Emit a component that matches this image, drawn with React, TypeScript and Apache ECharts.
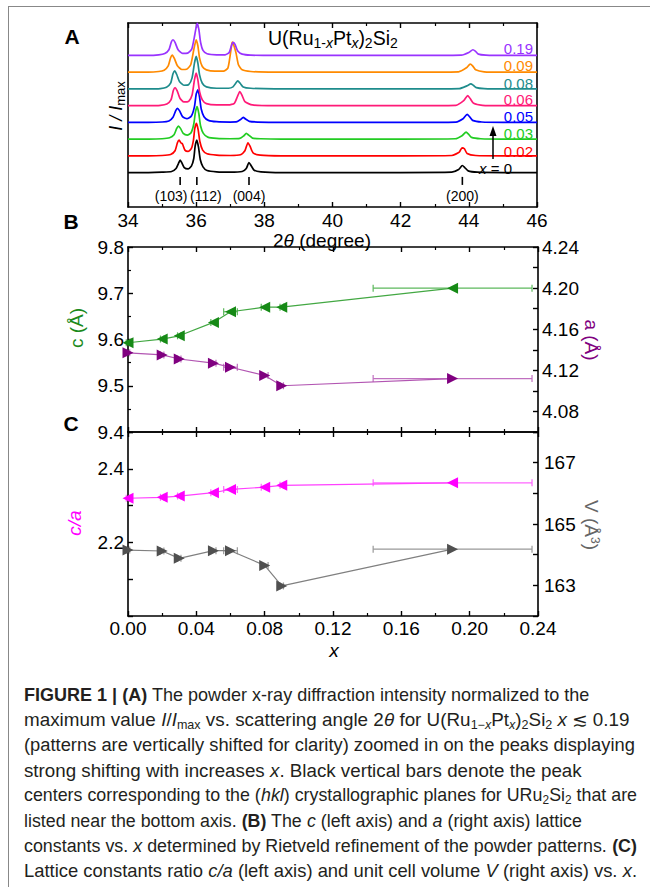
import React, { useEffect, useRef } from 'react';
import * as echarts from 'echarts';

// ---------------- Panel A : XRD patterns ----------------
const twoThetaTicks = [34, 36, 38, 40, 42, 44, 46];
const patternLabels = ['x = 0', '0.02', '0.03', '0.05', '0.06', '0.08', '0.09', '0.19'];
const patternColors = ['#000000', '#ff0000', '#22cc22', '#0000ff', '#ff1a78', '#1e8c8c', '#ff8a00', '#9933ff'];
const patternOffsets = [1.0, 1.5, 2.0, 2.5, 3.0, 3.5, 4.0, 4.5];

const patternX000 = [[34.0,0.03],[34.6,0.03],[35.0,0.04],[35.28,0.06],[35.41,0.15],[35.48,0.30],[35.53,0.40],[35.58,0.32],[35.65,0.18],[35.76,0.14],[35.86,0.22],[35.93,0.45],[35.97,0.82],[36.02,1.0],[36.07,0.78],[36.12,0.42],[36.2,0.2],[36.32,0.09],[36.6,0.05],[37.0,0.04],[37.35,0.06],[37.47,0.15],[37.55,0.33],[37.61,0.24],[37.7,0.1],[37.9,0.05],[38.5,0.03],[40.0,0.03],[42.0,0.03],[43.5,0.04],[43.7,0.12],[43.81,0.24],[43.88,0.18],[43.98,0.08],[44.25,0.04],[45.0,0.03],[46.0,0.03]];
const patternX002 = [[34.0,0.03],[34.6,0.03],[35.0,0.04],[35.25,0.07],[35.38,0.18],[35.45,0.42],[35.5,0.5],[35.55,0.42],[35.6,0.38],[35.67,0.2],[35.76,0.16],[35.86,0.25],[35.92,0.5],[35.96,0.85],[36.01,1.0],[36.06,0.8],[36.11,0.45],[36.19,0.2],[36.32,0.09],[36.6,0.05],[37.0,0.04],[37.3,0.06],[37.43,0.18],[37.52,0.42],[37.58,0.32],[37.67,0.12],[37.88,0.05],[38.5,0.03],[40.0,0.03],[42.0,0.03],[43.5,0.04],[43.72,0.14],[43.8,0.27],[43.87,0.24],[43.95,0.1],[44.2,0.04],[45.0,0.03],[46.0,0.03]];
const patternX003 = [[34.0,0.03],[34.6,0.03],[35.0,0.04],[35.22,0.07],[35.35,0.16],[35.43,0.35],[35.48,0.42],[35.54,0.35],[35.62,0.2],[35.74,0.15],[35.85,0.22],[35.93,0.48],[35.98,0.85],[36.03,1.0],[36.08,0.78],[36.13,0.42],[36.21,0.2],[36.34,0.09],[36.6,0.05],[37.0,0.04],[37.28,0.05],[37.4,0.13],[37.47,0.2],[37.54,0.15],[37.65,0.06],[37.9,0.04],[38.5,0.03],[40.0,0.03],[42.0,0.03],[43.6,0.04],[43.8,0.13],[43.92,0.24],[43.99,0.18],[44.08,0.08],[44.35,0.04],[45.0,0.03],[46.0,0.03]];
const patternX005 = [[34.0,0.03],[34.6,0.03],[35.0,0.04],[35.2,0.07],[35.32,0.18],[35.4,0.38],[35.45,0.45],[35.51,0.38],[35.6,0.2],[35.73,0.14],[35.86,0.22],[35.95,0.5],[36.0,0.87],[36.05,1.0],[36.1,0.78],[36.15,0.42],[36.23,0.2],[36.36,0.09],[36.6,0.05],[37.0,0.04],[37.2,0.05],[37.31,0.12],[37.38,0.18],[37.45,0.13],[37.56,0.06],[37.8,0.04],[38.5,0.03],[40.0,0.03],[42.0,0.03],[43.62,0.04],[43.83,0.14],[43.95,0.27],[44.02,0.2],[44.11,0.09],[44.38,0.04],[45.0,0.03],[46.0,0.03]];
const patternX006 = [[34.0,0.03],[34.6,0.03],[34.95,0.04],[35.14,0.08],[35.26,0.2],[35.33,0.48],[35.38,0.57],[35.44,0.48],[35.52,0.26],[35.64,0.14],[35.78,0.16],[35.88,0.35],[35.95,0.8],[36.0,1.0],[36.05,0.8],[36.1,0.45],[36.18,0.2],[36.3,0.09],[36.6,0.05],[36.95,0.05],[37.12,0.1],[37.21,0.3],[37.28,0.45],[37.34,0.35],[37.43,0.15],[37.65,0.05],[38.3,0.03],[40.0,0.03],[42.0,0.03],[43.62,0.04],[43.85,0.18],[43.97,0.33],[44.04,0.24],[44.14,0.1],[44.4,0.04],[45.0,0.03],[46.0,0.03]];
const patternX008 = [[34.0,0.03],[34.6,0.03],[34.95,0.04],[35.13,0.08],[35.25,0.2],[35.32,0.48],[35.37,0.57],[35.43,0.46],[35.51,0.25],[35.64,0.14],[35.78,0.16],[35.88,0.36],[35.95,0.8],[36.0,1.0],[36.05,0.8],[36.1,0.45],[36.18,0.2],[36.3,0.09],[36.6,0.05],[36.95,0.05],[37.08,0.09],[37.16,0.2],[37.22,0.27],[37.29,0.2],[37.38,0.09],[37.6,0.05],[38.3,0.03],[40.0,0.03],[42.0,0.03],[43.72,0.04],[43.94,0.12],[44.06,0.18],[44.13,0.14],[44.22,0.07],[44.45,0.04],[45.0,0.03],[46.0,0.03]];
const patternX009 = [[34.0,0.03],[34.6,0.03],[34.9,0.05],[35.06,0.09],[35.18,0.22],[35.25,0.46],[35.3,0.54],[35.36,0.44],[35.45,0.22],[35.58,0.11],[35.72,0.12],[35.84,0.25],[35.93,0.7],[36.0,1.0],[36.05,0.82],[36.1,0.45],[36.18,0.2],[36.3,0.1],[36.55,0.06],[36.8,0.06],[36.93,0.15],[37.0,0.55],[37.05,0.9],[37.07,0.93],[37.12,0.78],[37.17,0.6],[37.24,0.25],[37.35,0.1],[37.6,0.05],[38.3,0.03],[40.0,0.03],[42.0,0.03],[43.7,0.04],[43.93,0.16],[44.04,0.27],[44.11,0.22],[44.2,0.1],[44.45,0.04],[45.0,0.03],[46.0,0.03]];
const patternX019 = [[34.0,0.03],[34.6,0.03],[34.9,0.05],[35.08,0.09],[35.2,0.2],[35.27,0.43],[35.32,0.5],[35.38,0.42],[35.47,0.2],[35.6,0.09],[35.75,0.1],[35.87,0.22],[35.96,0.65],[36.03,1.0],[36.08,0.8],[36.13,0.42],[36.2,0.18],[36.32,0.08],[36.6,0.05],[36.85,0.05],[36.97,0.12],[37.04,0.34],[37.08,0.42],[37.14,0.36],[37.22,0.16],[37.35,0.07],[37.6,0.04],[38.3,0.03],[40.0,0.03],[42.0,0.03],[43.78,0.04],[44.0,0.12],[44.12,0.2],[44.19,0.16],[44.28,0.07],[44.5,0.04],[45.0,0.03],[46.0,0.03]];
const patterns = [patternX000, patternX002, patternX003, patternX005, patternX006, patternX008, patternX009, patternX019];

const hklPositions = [35.53, 36.02, 37.55, 43.81];
const hklLabels = ['(103)', '(112)', '(004)', '(200)'];

// ---------------- Panels B & C : lattice parameters ----------------
const xTicks = [0, 0.04, 0.08, 0.12, 0.16, 0.2, 0.24];
const xPt = [0, 0.02, 0.03, 0.05, 0.06, 0.08, 0.09, 0.19];
const xErr = [0.001, 0.001, 0.001, 0.0015, 0.004, 0.002, 0.001, 0.0465];
const cLattice = [9.593, 9.601, 9.608, 9.637, 9.660, 9.670, 9.670, 9.711];
const aLattice = [4.137, 4.135, 4.131, 4.127, 4.123, 4.115, 4.105, 4.112];
const cOverA = [2.320, 2.3225, 2.326, 2.335, 2.344, 2.350, 2.355, 2.362];
const volume = [164.15, 164.12, 163.88, 164.13, 164.13, 163.65, 162.98, 164.18];

const cTickLabels = [9.4, 9.5, 9.6, 9.7, 9.8];
const aTickLabels = [4.08, 4.12, 4.16, 4.2, 4.24];
const caTickLabels = [2.2, 2.4];
const vTickLabels = [163, 165, 167];

// ---------------- Caption ----------------
const captionLines: [string, string][][] = [
  [['b', 'FIGURE 1 | (A)'], ['n', ' The powder x-ray diffraction intensity normalized to the']],
  [['n', 'maximum value '], ['i', 'I'], ['n', '/'], ['i', 'I'], ['s', 'max'], ['n', ' vs. scattering angle 2'], ['i', 'θ'], ['n', ' for U(Ru'], ['s', '1−'], ['si', 'x'], ['n', 'Pt'], ['si', 'x'], ['n', ')'], ['s', '2'], ['n', 'Si'], ['s', '2'], ['n', ' '], ['i', 'x'], ['n', ' ≲ 0.19']],
  [['n', '(patterns are vertically shifted for clarity) zoomed in on the peaks displaying']],
  [['n', 'strong shifting with increases '], ['i', 'x'], ['n', '. Black vertical bars denote the peak']],
  [['n', 'centers corresponding to the ('], ['i', 'hkl'], ['n', ') crystallographic planes for URu'], ['s', '2'], ['n', 'Si'], ['s', '2'], ['n', ' that are']],
  [['n', 'listed near the bottom axis. '], ['b', '(B)'], ['n', ' The '], ['i', 'c'], ['n', ' (left axis) and '], ['i', 'a'], ['n', ' (right axis) lattice']],
  [['n', 'constants vs. '], ['i', 'x'], ['n', ' determined by Rietveld refinement of the powder patterns. '], ['b', '(C)']],
  [['n', 'Lattice constants ratio '], ['i', 'c/a'], ['n', ' (left axis) and unit cell volume '], ['i', 'V'], ['n', ' (right axis) vs. '], ['i', 'x'], ['n', '.']],
];
const captionRight = [590, 630, 635, 582, 637, 582, 637, 637];

const F = "'Liberation Sans', Arial, Helvetica, sans-serif";
const CF = "'Liberation Sans Narrow', 'Liberation Sans', Arial, sans-serif";

function measureSegs(segs: [string, string][], fam: string, size: number, sub: number) {
  const ctx = document.createElement('canvas').getContext('2d');
  if (!ctx) return 600;
  let w = 0;
  for (const [s, t] of segs) {
    const it = s === 'i' || s === 'si' ? 'italic ' : '';
    const bd = s === 'b' ? 'bold ' : '';
    const sz = s === 's' || s === 'si' ? sub : size;
    ctx.font = `${it}${bd}${sz}px ${fam}`;
    w += ctx.measureText(t).width;
  }
  return w;
}

function T(x: number, y: number, text: string, o: any = {}) {
  const align = o.align || 'center';
  const va = o.va || 'middle';
  return {
    type: 'text', x, y, rotation: o.rotation || 0, scaleX: o.scaleX || 1, silent: true, z: 100,
    style: {
      text, fill: o.color || '#000', fontSize: o.size || 19, fontFamily: o.family || F,
      fontWeight: o.weight || 'normal', fontStyle: o.style || 'normal',
      align, textAlign: align, verticalAlign: va, textVerticalAlign: va, rich: o.rich,
    },
  };
}

function makeAxis(extra: any) {
  return {
    type: 'value',
    axisLine: { show: true, onZero: false, lineStyle: { color: '#000', width: 1.6 } },
    axisTick: { show: true, inside: true, length: 5, lineStyle: { color: '#000', width: 1.4 } },
    minorTick: { show: false },
    splitLine: { show: false },
    minorSplitLine: { show: false },
    axisLabel: { show: false },
    ...extra,
  };
}

const labelStyle = { color: '#000', fontSize: 19, fontFamily: F };
const minor2 = { show: true, splitNumber: 2, length: 3, lineStyle: { color: '#000', width: 1.2 } };

function errRender(color: string) {
  return (params: any, api: any) => {
    const x = api.value(0), y = api.value(1), e = api.value(2);
    const p1 = api.coord([x - e, y]);
    const p2 = api.coord([x + e, y]);
    const st = { stroke: color, lineWidth: 1.2 };
    return {
      type: 'group', children: [
        { type: 'line', shape: { x1: p1[0], y1: p1[1], x2: p2[0], y2: p2[1] }, style: st },
        { type: 'line', shape: { x1: p1[0], y1: p1[1] - 3.5, x2: p1[0], y2: p1[1] + 3.5 }, style: st },
        { type: 'line', shape: { x1: p2[0], y1: p2[1] - 3.5, x2: p2[0], y2: p2[1] + 3.5 }, style: st },
      ],
    };
  };
}

export default function App() {
  const ref = useRef<HTMLDivElement>(null);
  useEffect(() => {
    document.body.style.margin = '0';
    if (!ref.current) return;
    const chart = echarts.init(ref.current, null, { renderer: 'svg' });

    const hklShift = [-9, 9, 0, 0];
    const patternSeries = patterns.map((pts, i) => ({
      type: 'line', xAxisIndex: 0, yAxisIndex: 0, silent: true,
      data: pts.map(([x, y]) => [x, y + patternOffsets[i]]),
      showSymbol: false, symbol: 'none', smooth: 0.2, clip: true,
      lineStyle: { color: patternColors[i], width: 1.7 },
      z: 2 + i * 0.01,
    }));

    const hklSeries = {
      type: 'custom', xAxisIndex: 0, yAxisIndex: 0, silent: true,
      data: hklPositions.map((p, i) => [p, i]),
      renderItem: (params: any, api: any) => {
        const x = api.value(0);
        const idx = api.value(1);
        const top = api.coord([x, 0.9]);
        const bot = api.coord([x, 0.66]);
        const lab = api.coord([x, 0.33]);
        return {
          type: 'group', children: [
            { type: 'line', shape: { x1: top[0], y1: top[1], x2: bot[0], y2: bot[1] }, style: { stroke: '#000', lineWidth: 1.6 } },
            { type: 'text', x: lab[0] + hklShift[idx], y: lab[1], style: { text: hklLabels[idx], fill: '#000', fontSize: 14, fontFamily: F, align: 'center', verticalAlign: 'middle' } },
          ],
        };
      },
    };

    const mk = (xa: number, ya: number, vals: number[], rot: number, mColor: string, lColor: string) => ({
      type: 'line', xAxisIndex: xa, yAxisIndex: ya, silent: true,
      data: xPt.map((x, i) => [x, vals[i]]),
      symbol: 'triangle', symbolSize: 11, symbolRotate: rot, showSymbol: true,
      itemStyle: { color: mColor }, lineStyle: { color: lColor, width: 1.2 }, z: 5,
    });
    const eb = (xa: number, ya: number, vals: number[], color: string) => ({
      type: 'custom', xAxisIndex: xa, yAxisIndex: ya, silent: true, z: 3,
      data: xPt.map((x, i) => [x, vals[i], xErr[i]]),
      encode: { x: 0, y: 1 },
      renderItem: errRender(color),
    });

    const capRich = {
      b: { fontWeight: 'bold', fontSize: 18, fontFamily: CF, fill: '#231f20', lineHeight: 22 },
      i: { fontStyle: 'italic', fontSize: 18, fontFamily: CF, fill: '#231f20', lineHeight: 22 },
      s: { fontSize: 12, fontFamily: CF, fill: '#231f20', lineHeight: 12, verticalAlign: 'bottom' },
      si: { fontStyle: 'italic', fontSize: 12, fontFamily: CF, fill: '#231f20', lineHeight: 12, verticalAlign: 'bottom' },
      n: { fontSize: 18, fontFamily: CF, fill: '#231f20', lineHeight: 22 },
    };
    const captionEls = captionLines.map((segs, k) => {
      const w = measureSegs(segs, CF, 18, 12);
      const sc = (captionRight[k] - 24) / w;
      const str = segs.map(([s, t]) => `{${s}|${t}}`).join('');
      return T(24, 695 + 25.1 * k, str, { align: 'left', scaleX: sc, family: CF, size: 18, color: '#231f20', rich: capRich });
    });

    const labelYs = [168, 151, 133, 116, 99, 83, 65, 48];
    const curveLabelEls = patternLabels.map((lab, i) => {
      if (i === 0) {
        return T(512, labelYs[i], '{i|x} = 0', { align: 'right', size: 15, color: patternColors[i], rich: { i: { fontStyle: 'italic', fontSize: 15, fontFamily: F, fill: patternColors[i] } } });
      }
      return T(533, labelYs[i], lab, { align: 'right', size: 15, color: patternColors[i] });
    });

    const titleRich = {
      n: { fontSize: 19.5, fontFamily: F, fill: '#000', lineHeight: 24 },
      s: { fontSize: 14, fontFamily: F, fill: '#000', lineHeight: 13, verticalAlign: 'bottom' },
      si: { fontSize: 14, fontFamily: F, fill: '#000', fontStyle: 'italic', lineHeight: 13, verticalAlign: 'bottom' },
    };

    const option: any = {
      animation: false,
      backgroundColor: '#fff',
      grid: [
        { left: 128, top: 23, width: 409, height: 184 },
        { left: 128, top: 247, width: 410, height: 185 },
        { left: 128, top: 432, width: 410, height: 184 },
      ],
      xAxis: [
        makeAxis({ gridIndex: 0, position: 'bottom', min: 34, max: 46, interval: 2, minorTick: minor2,
          axisLabel: { show: true, margin: 4, ...labelStyle, formatter: (v: number) => (twoThetaTicks.includes(v) ? String(v) : '') } }),
        makeAxis({ gridIndex: 0, position: 'top', min: 34, max: 46, interval: 2, minorTick: minor2 }),
        makeAxis({ gridIndex: 1, position: 'bottom', min: 0, max: 0.24, interval: 0.04, minorTick: minor2 }),
        makeAxis({ gridIndex: 1, position: 'top', min: 0, max: 0.24, interval: 0.04, minorTick: minor2 }),
        makeAxis({ gridIndex: 2, position: 'bottom', min: 0, max: 0.24, interval: 0.04, minorTick: minor2,
          axisLabel: { show: true, margin: 3, ...labelStyle, formatter: (v: number) => {
            const hit = xTicks.find((t) => Math.abs(t - v) < 1e-6);
            return hit === undefined ? '' : hit.toFixed(2);
          } } }),
        makeAxis({ gridIndex: 2, position: 'top', min: 0, max: 0.24, interval: 0.04, minorTick: minor2 }),
      ],
      yAxis: [
        makeAxis({ gridIndex: 0, position: 'left', min: 0, max: 5.5, axisTick: { show: false } }),
        makeAxis({ gridIndex: 0, position: 'right', min: 0, max: 5.5, axisTick: { show: false } }),
        makeAxis({ gridIndex: 1, position: 'left', min: 9.4, max: 9.8, interval: 0.1, minorTick: minor2,
          axisLabel: { show: true, margin: 4, ...labelStyle, formatter: (v: number) => {
            const hit = cTickLabels.find((t) => Math.abs(t - v) < 1e-6);
            return hit === undefined ? '' : hit.toFixed(1);
          } } }),
        makeAxis({ gridIndex: 1, position: 'right', min: 4.06, max: 4.24, interval: 0.02,
          axisLabel: { show: true, margin: 4, ...labelStyle, formatter: (v: number) => {
            const hit = aTickLabels.find((t) => Math.abs(t - v) < 1e-6);
            return hit === undefined ? '' : hit.toFixed(2);
          } } }),
        makeAxis({ gridIndex: 2, position: 'left', min: 2.0, max: 2.5, interval: 0.1,
          axisLabel: { show: true, margin: 4, ...labelStyle, formatter: (v: number) => {
            const hit = caTickLabels.find((t) => Math.abs(t - v) < 1e-6);
            return hit === undefined ? '' : hit.toFixed(1);
          } } }),
        makeAxis({ gridIndex: 2, position: 'right', min: 162, max: 168, interval: 1,
          axisLabel: { show: true, margin: 6, ...labelStyle, formatter: (v: number) => {
            const hit = vTickLabels.find((t) => Math.abs(t - v) < 1e-6);
            return hit === undefined ? '' : String(hit);
          } } }),
      ],
      series: [
        ...patternSeries,
        hklSeries,
        eb(2, 2, cLattice, '#5cb85c'),
        eb(2, 3, aLattice, '#c070c0'),
        mk(2, 2, cLattice, 90, '#168a16', '#43a843'),
        mk(2, 3, aLattice, -90, '#800080', '#b255b2'),
        eb(4, 4, cOverA, '#ff66ff'),
        eb(4, 5, volume, '#999999'),
        mk(4, 4, cOverA, 90, '#ff00ff', '#ff40ff'),
        mk(4, 5, volume, -90, '#505050', '#808080'),
      ],
      graphic: [
        { type: 'line', silent: true, z: 0, shape: { x1: 8, y1: 6.5, x2: 650, y2: 6.5 }, style: { stroke: '#888', lineWidth: 1 } },
        { type: 'line', silent: true, z: 0, shape: { x1: 8.5, y1: 6.5, x2: 8.5, y2: 887 }, style: { stroke: '#888', lineWidth: 1 } },
        T(72, 36, 'A', { size: 21, weight: 'bold' }),
        T(71, 221, 'B', { size: 21, weight: 'bold' }),
        T(71, 423, 'C', { size: 21, weight: 'bold' }),
        T(268, 38, '{n|U(Ru}{s|1-}{si|x}{n|Pt}{si|x}{n|)}{s|2}{n|Si}{s|2}', { align: 'left', size: 19.5, rich: titleRich }),
        T(116, 106, '{i|I / I}{s|max}', { rotation: Math.PI / 2, size: 18, rich: {
          i: { fontStyle: 'italic', fontSize: 18, fontFamily: F, fill: '#000', lineHeight: 22 },
          s: { fontSize: 13, fontFamily: F, fill: '#000', lineHeight: 12, verticalAlign: 'bottom' } } }),
        ...curveLabelEls,
        { type: 'line', silent: true, z: 100, shape: { x1: 493, y1: 159, x2: 493, y2: 134 }, style: { stroke: '#000', lineWidth: 1.5 } },
        { type: 'polygon', silent: true, z: 100, shape: { points: [[493, 126], [489.5, 136], [496.5, 136]] }, style: { fill: '#000' } },
        T(322, 240, '2{i|θ} (degree)', { size: 19, rich: { i: { fontStyle: 'italic', fontSize: 19, fontFamily: F, fill: '#000' } } }),
        T(76, 328, 'c (Å)', { rotation: Math.PI / 2, size: 19, color: '#1b8a1b' }),
        T(591, 340, 'a (Å)', { rotation: -Math.PI / 2, size: 19, color: '#800080' }),
        T(74, 523, 'c/a', { rotation: Math.PI / 2, size: 19, style: 'italic', color: '#ff00ff' }),
        T(591, 525, 'V (Å{p|3})', { rotation: -Math.PI / 2, size: 19, color: '#666666', rich: {
          p: { fontSize: 12, fontFamily: F, fill: '#666666', lineHeight: 12, verticalAlign: 'top' } } }),
        T(334, 650, 'x', { size: 19, style: 'italic' }),
        ...captionEls,
      ],
    };
    chart.setOption(option);
    return () => chart.dispose();
  }, []);
  return <div ref={ref} style={{ width: 650, height: 887 }} />;
}
